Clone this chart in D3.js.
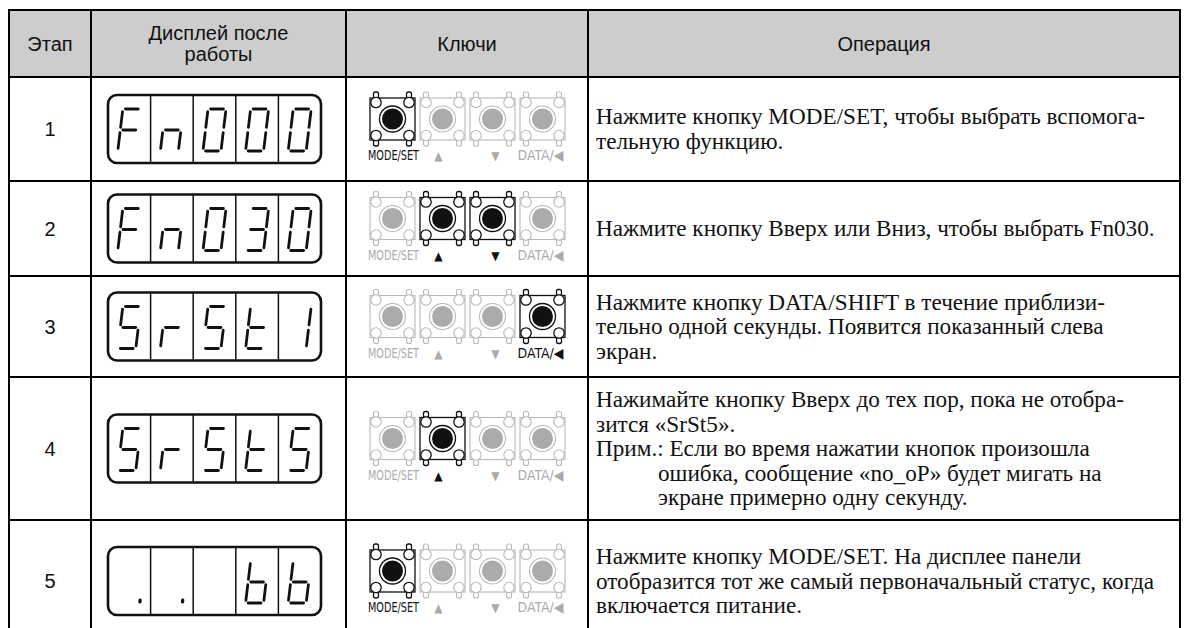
<!DOCTYPE html>
<html><head><meta charset="utf-8">
<script src="https://cdn.jsdelivr.net/npm/d3@7"></script>
<style>body{margin:0;background:#fff}svg{display:block}</style>
</head><body><svg id="c" width="1188" height="628"></svg>
<script>
// ---------- data ----------
const headers = [["Этап"], ["Дисплей после", "работы"], ["Ключи"], ["Операция"]];
const steps = ["1", "2", "3", "4", "5"];
const displays = [
  ["F", "n", "0", "0", "0"],
  ["F", "n", "0", "3", "0"],
  ["S", "r", "S", "t", "1"],
  ["S", "r", "S", "t", "5"],
  [".", ".", "", "b", "b"]
];
const keyLabels = ["MODE/SET", "▲", "▼", "DATA/◀"];
const activeKeys = [[0], [1, 2], [3], [1], [0]];
const operations = [
  [["Нажмите кнопку MODE/SET, чтобы выбрать вспомога-", 0], ["тельную функцию.", 0]],
  [["Нажмите кнопку Вверх или Вниз, чтобы выбрать Fn030.", 0]],
  [["Нажмите кнопку DATA/SHIFT в течение приблизи-", 0], ["тельно одной секунды. Появится показанный слева", 0], ["экран.", 0]],
  [["Нажимайте кнопку Вверх до тех пор, пока не отобра-", 0], ["зится «SrSt5».", 0], ["Прим.: Если во время нажатии кнопок произошла", 0], ["ошибка, сообщение «no_oP» будет мигать на", 1], ["экране примерно одну секунду.", 1]],
  [["Нажмите кнопку MODE/SET. На дисплее панели", 0], ["отобразится тот же самый первоначальный статус, когда", 0], ["включается питание.", 0]]
];
const SEG = {F: "aefg", n: "ceg", "0": "abcdef", "3": "abcdg", S: "acdfg", "5": "acdfg", r: "eg", t: "defg", "1": "bc", b: "cdefg"};

// ---------- layout ----------
const X = [9, 91, 346, 588, 1180];
const Y = [10, 77, 181, 276, 377, 520, 642];
const W = 1188, H = 628;
const svg = d3.select("#c");
const sans = "'Liberation Sans', Arial, sans-serif";
const serif = "'Liberation Serif', 'Times New Roman', serif";
const ink = "#111";

svg.append("rect").attr("x", X[0]).attr("y", Y[0]).attr("width", X[4] - X[0]).attr("height", Y[1] - Y[0]).attr("fill", "#cdcdcd");

const grid = svg.append("g").attr("stroke", "#000").attr("stroke-width", 2);
Y.filter(y => y < H).forEach(y => grid.append("line").attr("x1", X[0] - 1).attr("x2", X[4] + 1).attr("y1", y).attr("y2", y));
X.forEach(x => grid.append("line").attr("x1", x).attr("x2", x).attr("y1", Y[0] - 1).attr("y2", H));

headers.forEach((lines, ci) => {
  const cx = (X[ci] + X[ci + 1]) / 2, cy = (Y[0] + Y[1]) / 2;
  lines.forEach((t, li) => {
    svg.append("text").attr("x", cx).attr("y", cy + (li - (lines.length - 1) / 2) * 21)
      .attr("dy", "0.36em").attr("text-anchor", "middle").attr("font-family", sans)
      .attr("font-size", 20).attr("fill", ink).text(t);
  });
});

const rowCenter = i => (Y[i + 1] + Y[i + 2]) / 2;

steps.forEach((s, i) => {
  svg.append("text").attr("x", (X[0] + X[1]) / 2).attr("y", rowCenter(i)).attr("dy", "0.36em")
    .attr("text-anchor", "middle").attr("font-family", sans).attr("font-size", 20).attr("fill", ink).text(s);
});

// ---------- 7-segment displays ----------
const dispW = 213, dispH = 68, dispX = X[1] + 17;
const cell = d3.scaleBand().domain(d3.range(5)).range([dispX, dispX + dispW]);
const dw = 18, dh = 42, gap = 2.6, slant = 0.12;
function segPts(s) {
  const m = dh / 2;
  return {
    a: [[gap, 0], [dw - gap, 0]], b: [[dw, gap], [dw, m - gap]], c: [[dw, m + gap], [dw, dh - gap]],
    d: [[gap, dh], [dw - gap, dh]], e: [[0, m + gap], [0, dh - gap]], f: [[0, gap], [0, m - gap]],
    g: [[gap, m], [dw - gap, m]]
  }[s];
}
displays.forEach((chars, ri) => {
  const g = svg.append("g");
  const top = rowCenter(ri) - dispH / 2;
  g.append("rect").attr("x", dispX).attr("y", top).attr("width", dispW).attr("height", dispH)
    .attr("rx", 9).attr("fill", "none").attr("stroke", ink).attr("stroke-width", 2.6);
  d3.range(1, 5).forEach(k => g.append("line").attr("x1", cell(k)).attr("x2", cell(k))
    .attr("y1", top).attr("y2", top + dispH).attr("stroke", ink).attr("stroke-width", 1.5));
  chars.forEach((ch, k) => {
    const ox = cell(k) + (cell.bandwidth() - dw - dh * slant) / 2, oy = top + 14;
    const tr = ([x, y]) => [ox + x + (dh - y) * slant, oy + y];
    if (ch === ".") {
      const p = tr([dw + 4, dh - 3]), q = tr([dw + 4, dh - 1]);
      g.append("line").attr("x1", p[0]).attr("y1", p[1]).attr("x2", q[0]).attr("y2", q[1])
        .attr("stroke", ink).attr("stroke-width", 3.2).attr("stroke-linecap", "round");
      return;
    }
    (SEG[ch] || "").split("").forEach(s => {
      const [p0, p1] = segPts(s).map(tr);
      g.append("line").attr("x1", p0[0]).attr("y1", p0[1]).attr("x2", p1[0]).attr("y2", p1[1])
        .attr("stroke", ink).attr("stroke-width", 2.8).attr("stroke-linecap", "round");
    });
  });
});

// ---------- keys ----------
const kx = d3.scaleBand().domain(d3.range(4)).range([370, 565]).paddingInner(0.1);
const KW = kx.bandwidth(), KH = 42;
const labelOff = [1, -4, 3, -2];
const labelLen = [51, null, null, 46];
const labelSize = [14, 12, 12, 14];
function drawKey(g, x0, y0, on) {
  const c = on ? ink : "#b9b9b9", sw = on ? 1.3 : 1.1;
  const pinX = [x0 + 6, x0 + KW - 6];
  pinX.forEach(px => {
    [y0 - 6, y0 + KH].forEach(py => g.append("rect").attr("x", px - 2.5).attr("y", py).attr("width", 5).attr("height", 6)
      .attr("rx", 2).attr("fill", "#fff").attr("stroke", c).attr("stroke-width", sw));
  });
  g.append("rect").attr("x", x0).attr("y", y0).attr("width", KW).attr("height", KH)
    .attr("fill", "#fff").attr("stroke", c).attr("stroke-width", sw);
  pinX.forEach(px => [y0 + 4.5, y0 + KH - 4.5].forEach(py =>
    g.append("circle").attr("cx", px).attr("cy", py).attr("r", 5.2).attr("fill", "#fff").attr("stroke", c).attr("stroke-width", sw)));
  g.append("circle").attr("cx", x0 + KW / 2).attr("cy", y0 + KH / 2).attr("r", 13)
    .attr("fill", "#fff").attr("stroke", c).attr("stroke-width", sw);
  g.append("circle").attr("cx", x0 + KW / 2).attr("cy", y0 + KH / 2).attr("r", 10.5)
    .attr("fill", on ? ink : "#ababab");
}
activeKeys.forEach((act, ri) => {
  const y0 = rowCenter(ri) - 31;
  const g = svg.append("g");
  keyLabels.forEach((lab, k) => {
    const on = act.includes(k);
    drawKey(g, kx(k), y0, on);
    const t = g.append("text").attr("x", kx(k) + KW / 2 + labelOff[k]).attr("y", y0 + 62)
      .attr("text-anchor", "middle").attr("font-family", "'Liberation Sans Narrow', 'Arial Narrow', 'DejaVu Sans Condensed', sans-serif")
      .attr("font-size", labelSize[k]).attr("fill", on ? ink : "#ababab").text(lab);
    if (labelLen[k]) t.attr("textLength", labelLen[k]).attr("lengthAdjust", "spacingAndGlyphs");
  });
});

// ---------- operation text ----------
const LH = 24.5, indent = 62;
operations.forEach((lines, ri) => {
  const cy = rowCenter(ri);
  lines.forEach(([t, ind], li) => {
    svg.append("text").attr("x", X[3] + 8 + (ind ? indent : 0))
      .attr("y", cy + (li - (lines.length - 1) / 2) * LH).attr("dy", "0.33em")
      .attr("font-family", serif).attr("font-size", 23.2).attr("fill", ink).text(t);
  });
});
</script>
</body></html>
